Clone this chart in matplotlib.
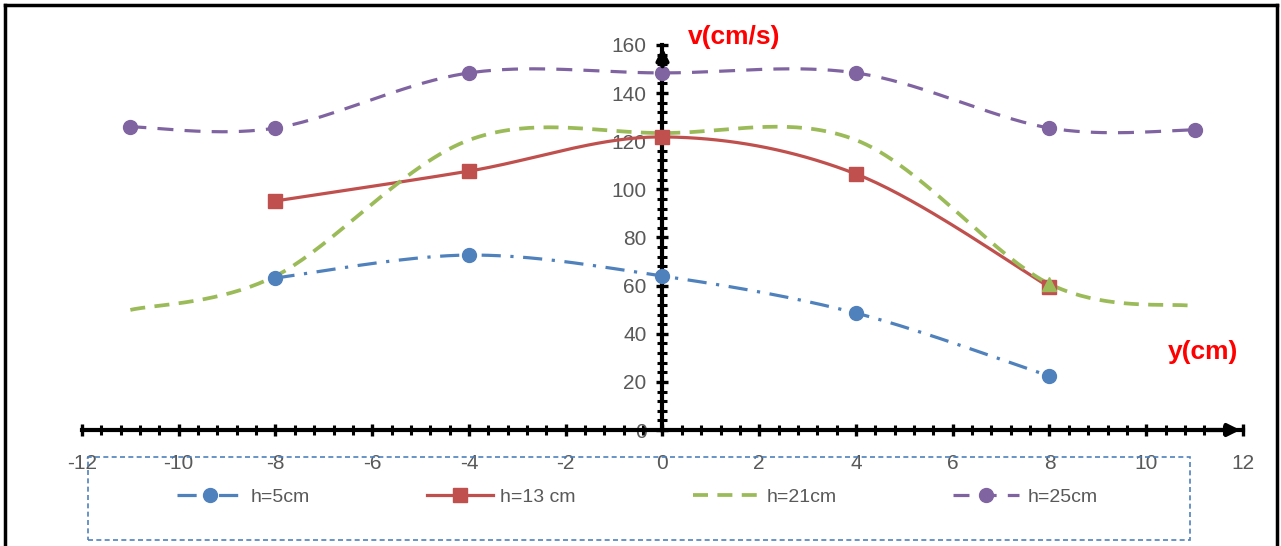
import numpy as np
import matplotlib
matplotlib.use("Agg")
import matplotlib.pyplot as plt
from matplotlib.lines import Line2D
from matplotlib.patches import Rectangle

plt.rcParams['font.family'] = ['Liberation Sans', 'DejaVu Sans']
plt.rcParams['axes.unicode_minus'] = False

# data
x_5 = [-8, -4, 0, 4, 8]
v_5 = [63.2, 72.7, 64.0, 48.6, 22.4]

x_13 = [-8, -4, 0, 4, 8]
v_13 = [95.2, 107.6, 121.8, 106.4, 59.4]

x_21 = [-11, -8, -4, 0, 4, 8, 11]
v_21 = [49.9, 64.0, 120.5, 123.4, 120.5, 60.7, 51.5]

x_25 = [-11, -8, -4, 0, 4, 8, 11]
v_25 = [126.0, 125.5, 148.4, 148.4, 148.4, 125.5, 124.7]

labels = ["h=5cm", "h=13 cm", "h=21cm", "h=25cm"]
colors = ["#4F81BD", "#C0504D", "#9BBB59", "#8064A2"]


def smooth(xs, ys, n=40):
    # Excel-like smoothed line (Bezier through the points)
    p = np.column_stack([xs, ys]).astype(float)
    ext = np.vstack([p[0], p, p[-1]])
    out = []
    t = np.linspace(0, 1, n)[:, None]
    for i in range(len(p) - 1):
        p0, p3 = ext[i + 1], ext[i + 2]
        c1 = p0 + (ext[i + 2] - ext[i]) / 6
        c2 = p3 - (ext[i + 3] - ext[i + 1]) / 6
        seg = ((1 - t) ** 3) * p0 + 3 * ((1 - t) ** 2) * t * c1 \
            + 3 * (1 - t) * t ** 2 * c2 + t ** 3 * p3
        out.append(seg)
    out = np.vstack(out)
    return out[:, 0], out[:, 1]


W, H = 1281, 546
fig = plt.figure(figsize=(W / 100, H / 100), dpi=100)
ax = fig.add_axes([82 / W, 1 - 430 / H, (1243 - 82) / W, (430 - 45) / H])

dashdot = (0, (6, 3, 1, 3))
lw = 2.3

# h=5cm
sx, sy = smooth(x_5, v_5)
ax.plot(sx, sy, color=colors[0], lw=lw, linestyle=dashdot, zorder=3)
ax.plot(x_5, v_5, 'o', color=colors[0], ms=10, zorder=4)

# h=13 cm
sx, sy = smooth(x_13, v_13)
ax.plot(sx, sy, color=colors[1], lw=lw, zorder=3)
ax.plot(x_13, v_13, 's', color=colors[1], ms=10, zorder=4)

# h=21cm
sx, sy = smooth(x_21, v_21)
ax.plot(sx, sy, color=colors[2], lw=lw + 0.4, linestyle=(0, (4, 2.5)), zorder=3)
ax.plot(x_21[5], v_21[5], '^', color=colors[2], ms=10, zorder=5)

# h=25cm
sx, sy = smooth(x_25, v_25)
ax.plot(sx, sy, color=colors[3], lw=lw, linestyle=(0, (5, 3.5)), zorder=3)
ax.plot(x_25, v_25, 'o', color=colors[3], ms=10, zorder=4)

ax.set_xlim(-12, 12)
ax.set_ylim(0, 160)

# axes crossing at the origin
for s in ['top', 'right']:
    ax.spines[s].set_visible(False)
ax.spines['left'].set_position(('data', 0))
ax.spines['bottom'].set_position(('data', 0))
for s in ['left', 'bottom']:
    ax.spines[s].set_linewidth(3)
    ax.spines[s].set_zorder(2)

ax.set_xticks(np.arange(-12, 13, 2))
ax.set_xticks(np.arange(-12, 12.01, 0.4), minor=True)
ax.set_yticks(np.arange(0, 161, 20))
ax.set_yticks(np.arange(0, 161, 4), minor=True)
ax.tick_params(which='major', direction='inout', length=9, width=2.4,
               labelsize=15, labelcolor='#595959', color='black')
ax.tick_params(which='minor', direction='inout', length=6.5, width=2.2,
               color='black')
ax.tick_params(axis='x', which='major', pad=13)
ax.tick_params(axis='y', which='major', pad=7)

# arrow heads on the axes
ax.annotate('', xy=(0, 160), xytext=(0, 150),
            arrowprops=dict(arrowstyle='-|>', color='black', lw=3,
                            mutation_scale=18), zorder=6)
ax.annotate('', xy=(12, 0), xytext=(11.2, 0),
            arrowprops=dict(arrowstyle='-|>', color='black', lw=3,
                            mutation_scale=18), zorder=6)

ax.text(0.52, 163.5, "v(cm/s)", color='red', fontsize=19, fontweight='bold',
        ha='left', va='center', clip_on=False)
ax.text(10.45, 32.4, "y(cm)", color='red', fontsize=19, fontweight='bold',
        ha='left', va='center', clip_on=False)

# legend
handles = [
    Line2D([], [], color=colors[0], lw=lw, linestyle=dashdot, marker='o', ms=10),
    Line2D([], [], color=colors[1], lw=lw, marker='s', ms=10),
    Line2D([], [], color=colors[2], lw=lw + 0.4, linestyle=(0, (4, 2.5))),
    Line2D([], [], color=colors[3], lw=lw, linestyle=(0, (5, 3.5)), marker='o', ms=10),
]
fig.legend(handles, labels, loc='center', ncol=4, frameon=False,
           bbox_to_anchor=(637 / W, 1 - 497 / H), fontsize=14,
           handlelength=3.4, columnspacing=6.0, handletextpad=0.4,
           labelcolor='#595959')
fig.patches.append(Rectangle((88 / W, 1 - 540 / H), (1190 - 88) / W, (540 - 457) / H,
                             transform=fig.transFigure, fill=False,
                             edgecolor='#4F81BD', lw=1.2, linestyle=(0, (3, 2))))

# outer border of the chart
fig.add_artist(Line2D([5 / W, 5 / W], [0, 1 - 5 / H], color='black', lw=2.5,
                      transform=fig.transFigure))
fig.add_artist(Line2D([5 / W, 1277 / W], [1 - 5 / H, 1 - 5 / H], color='black', lw=2.5,
                      transform=fig.transFigure))
fig.add_artist(Line2D([1277 / W, 1277 / W], [0, 1 - 5 / H], color='black', lw=2.5,
                      transform=fig.transFigure))

fig.savefig("out.png", dpi=100)
